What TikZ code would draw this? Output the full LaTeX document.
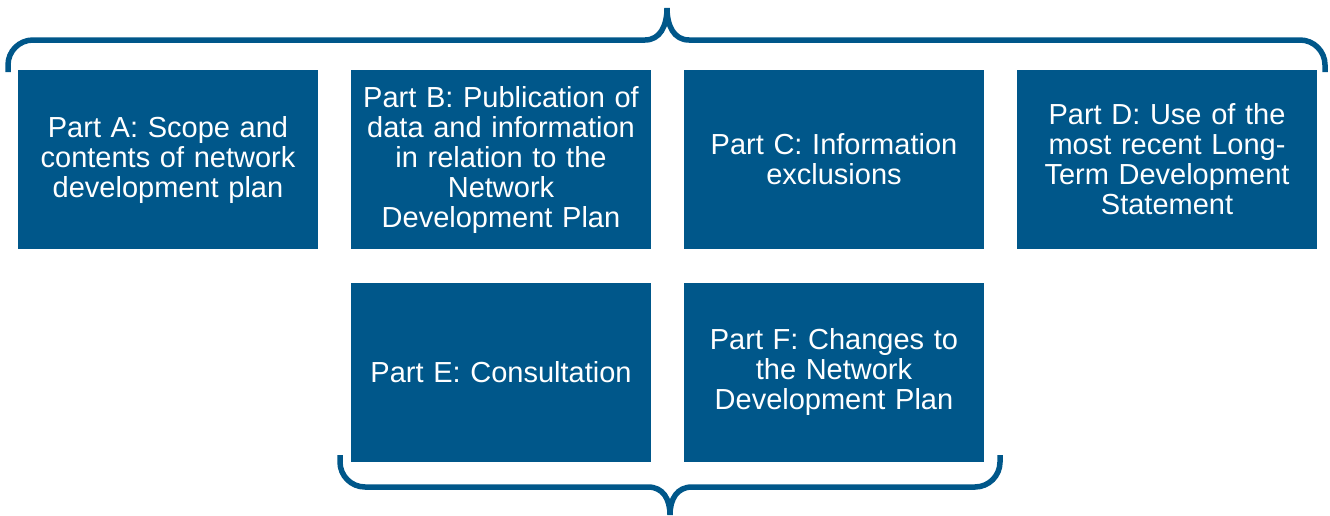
\documentclass[tikz,border=0pt]{standalone}
\usepackage{fontspec}
\setmainfont{Liberation Sans}
\usepackage{xcolor}
\usetikzlibrary{positioning}
\definecolor{partblue}{HTML}{00578A}

\begin{document}
\begin{tikzpicture}[
    x=1pt, y=-1pt,
    partbox/.style={fill=partblue, text=white, align=center, inner sep=0pt,
        minimum width=300pt, minimum height=179pt, text width=300pt,
        font=\fontsize{29}{30}\selectfont},
    bracket/.style={draw=partblue, line width=5.5pt},
]
    \useasboundingbox (0,0) rectangle (1330,515);

    % First row
    \node[partbox] (partA) at (168,159.5) {Part A: Scope and\\contents of network\\development plan};
    \node[partbox] (partB) at (501,159.5) {Part B: Publication of\\data and information\\in relation to the\\Network\\Development Plan};
    \node[partbox] (partC) at (834,159.5) {Part C: Information\\exclusions};
    \node[partbox] (partD) at (1167,159.5) {Part D: Use of the\\most recent Long-\\Term Development\\Statement};

    % Second row
    \node[partbox] (partE) at (501,372) {Part E: Consultation};
    \node[partbox] (partF) at (834,372) {Part F: Changes to\\the Network\\Development Plan};

    % Top brace over all parts
    \draw[bracket] (8,72) -- (8,65) .. controls (8,51.2) and (19.2,40) .. (33,40)
        -- (645,40) .. controls (660,40) and (667,26) .. (667,8)
        .. controls (667,26) and (674,40) .. (689,40)
        -- (1300,40) .. controls (1313.8,40) and (1325,51.2) .. (1325,65) -- (1325,72);

    % Bottom brace under parts E and F
    \draw[bracket] (340,455) -- (340,462) .. controls (340,475.8) and (351.2,487) .. (365,487)
        -- (648,487) .. controls (663,487) and (670,499) .. (670,515)
        .. controls (670,499) and (677,487) .. (692,487)
        -- (975,487) .. controls (988.8,487) and (1000,475.8) .. (1000,462) -- (1000,455);
\end{tikzpicture}
\end{document}
